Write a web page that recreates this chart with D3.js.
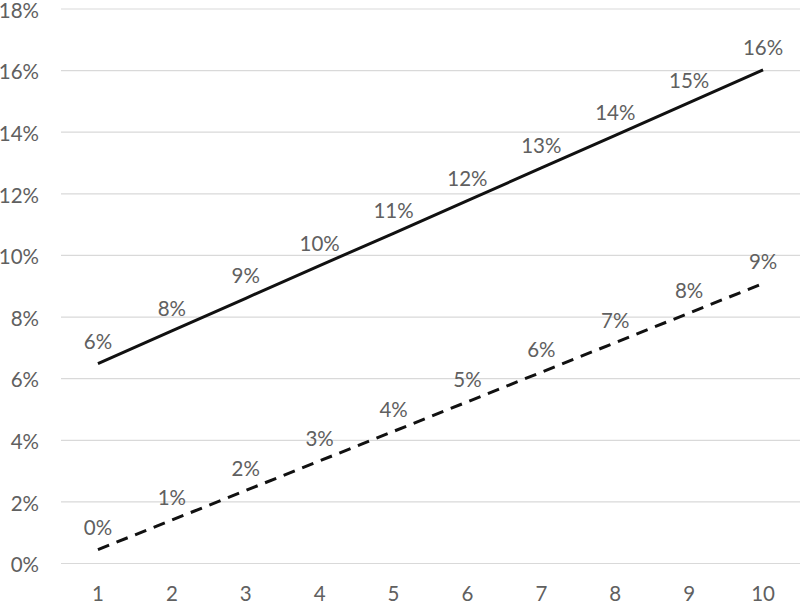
<!DOCTYPE html>
<html><head><meta charset="utf-8">
<script src="https://cdn.jsdelivr.net/npm/d3@7"></script>
<style>body{margin:0;background:#fff}svg{display:block}text{font-family:Lato,"Noto Sans",sans-serif;fill:#606060}</style>
</head><body><svg id="c" width="800" height="603"></svg>
<script>
const categories = [1,2,3,4,5,6,7,8,9,10];
const solidSeries = [6.49,7.55,8.61,9.67,10.72,11.78,12.84,13.90,14.96,16.02];
const dashedSeries = [0.45,1.41,2.37,3.33,4.29,5.25,6.21,7.17,8.13,9.09];
const yTicks = [0,2,4,6,8,10,12,14,16,18];

(function(){
const svg = d3.select("#c");
const pLeft = 61, pRight = 800, pTop = 9, pBottom = 563.5;
const x = d3.scalePoint().domain(categories).range([pLeft, pRight]).padding(0.5);
const y = d3.scaleLinear().domain([0,18]).range([pBottom, pTop]);
const fs = 20.5;

svg.append("g").selectAll("line").data(yTicks).join("line")
  .attr("x1", pLeft).attr("x2", pRight)
  .attr("y1", d=>y(d)).attr("y2", d=>y(d))
  .attr("stroke", "#d9d9d9").attr("stroke-width", 1.2);

svg.append("g").selectAll("text").data(yTicks).join("text")
  .attr("x", 39).attr("y", d=>y(d)+1.5).attr("dy","0.35em")
  .attr("text-anchor","end").attr("font-size", fs).text(d=>d+"%");

svg.append("g").selectAll("text").data(categories).join("text")
  .attr("x", d=>x(d)).attr("y", 601)
  .attr("text-anchor","middle").attr("font-size", fs).text(d=>d);

const line = d3.line().x((d,i)=>x(categories[i])).y(d=>y(d));
function drawSeries(vals, dash){
  svg.append("path").datum(vals).attr("d", line)
    .attr("fill","none").attr("stroke","#111").attr("stroke-width",3)
    .attr("stroke-dasharray", dash);
  svg.append("g").selectAll("text").data(vals).join("text")
    .attr("x",(d,i)=>x(categories[i])).attr("y", d=>y(d)-22).attr("dy","0.35em")
    .attr("text-anchor","middle").attr("font-size", fs)
    .text(d=>Math.round(d)+"%");
}
drawSeries(solidSeries, null);
drawSeries(dashedSeries, "12,8");
})();
</script></body></html>
